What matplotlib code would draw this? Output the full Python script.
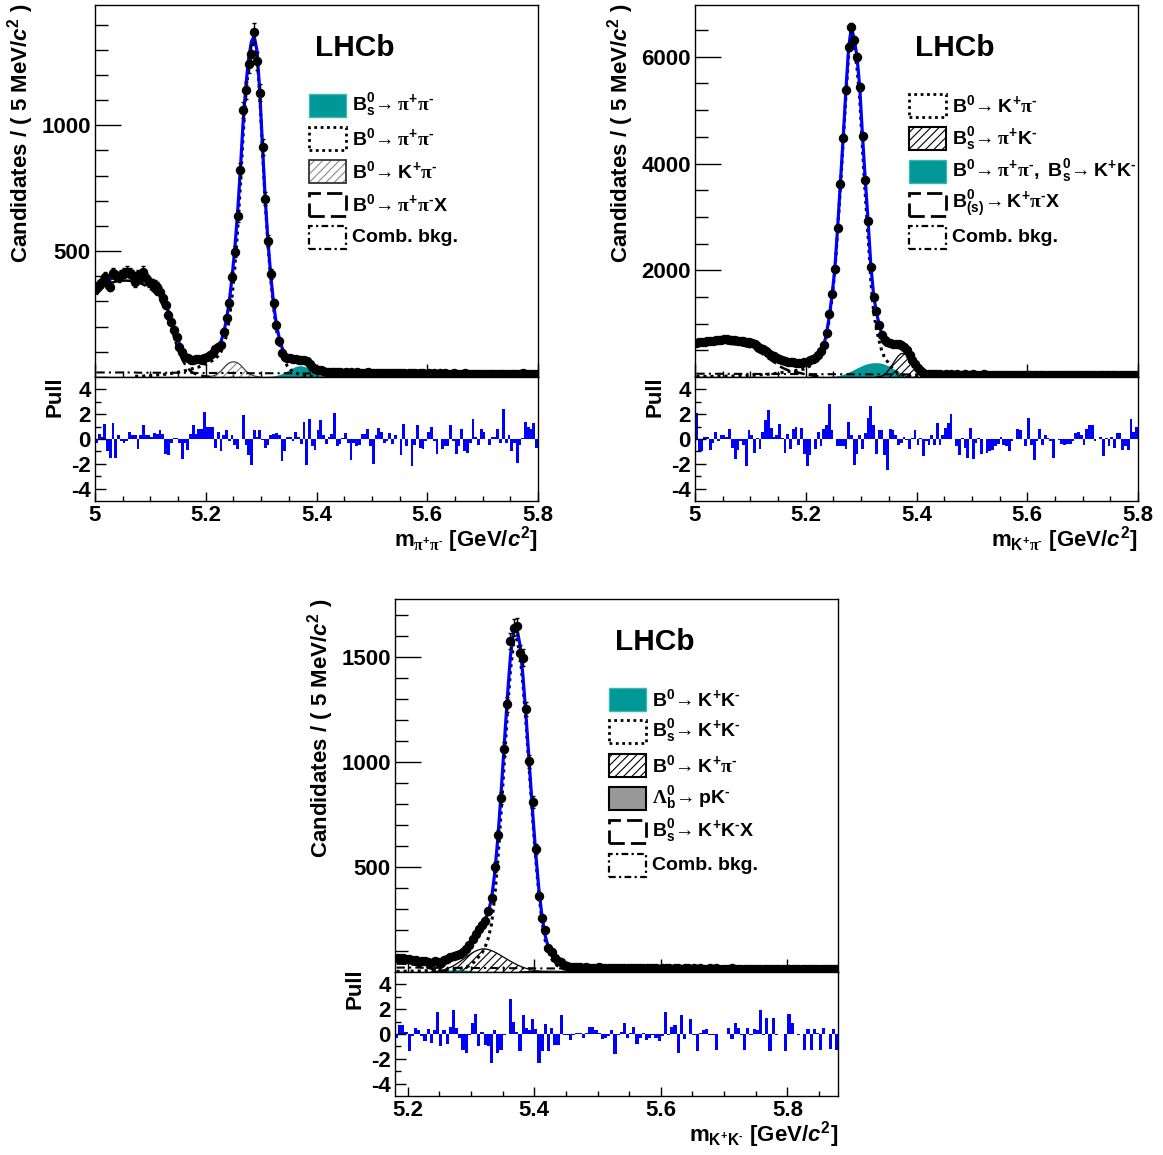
import numpy as np
import matplotlib
matplotlib.use("Agg")
import matplotlib.pyplot as plt
from matplotlib.patches import Rectangle
from matplotlib.ticker import MultipleLocator, FixedLocator, FuncFormatter

plt.rcParams['font.family'] = ['Liberation Sans', 'DejaVu Sans']
plt.rcParams['font.weight'] = 'bold'
plt.rcParams['mathtext.fontset'] = 'custom'
plt.rcParams['mathtext.rm'] = 'Liberation Sans:bold'
plt.rcParams['mathtext.bf'] = 'Liberation Sans:bold'
plt.rcParams['mathtext.sf'] = 'Liberation Sans:bold'
plt.rcParams['mathtext.it'] = 'Liberation Sans:italic:bold'
plt.rcParams['mathtext.cal'] = 'Liberation Serif'
plt.rcParams['mathtext.default'] = 'rm'
plt.rcParams['axes.unicode_minus'] = False
plt.rcParams['hatch.linewidth'] = 0.8

# ======================= DATA =======================
BIN = 0.005  # 5 MeV bins

# ---------- pi+ pi- spectrum (5.0 - 5.8) ----------
range_pipi = (5.0, 5.8)
counts_pipi = [
    352, 365, 379, 399, 372, 359, 412, 401, 399, 405,
    412, 419, 412, 405, 379, 405, 392, 419, 392, 379,
    372, 366, 359, 339, 313, 286, 246, 220, 187, 160,
    121, 101, 80, 74, 68, 68, 72, 70, 68, 74,
    81, 87, 94, 110, 121, 127, 180, 233, 293, 399,
    498, 640, 821, 1060, 1139, 1245, 1285, 1369, 1255, 1129,
    914, 708, 542, 408, 293, 207, 142, 95, 81, 76,
    74, 72, 70, 69, 68, 66, 64, 50, 40, 33,
    29, 26, 23, 21, 20, 19, 19, 18, 20, 17,
    18, 16, 19, 17, 18, 16, 17, 15, 18, 16,
    16, 15, 17, 14, 16, 15, 16, 14, 15, 17,
    14, 15, 13, 16, 14, 15, 13, 14, 15, 13,
    14, 13, 15, 12, 14, 13, 16, 12, 13, 14,
    12, 13, 12, 14, 11, 13, 12, 13, 11, 12,
    12, 11, 13, 11, 12, 10, 12, 11, 13, 10,
    11, 12, 10, 11, 14, 10, 11, 10, 12, 11]
pull_pipi = [
    -0.3, 0.4, 0.2, 1.2, -1.0, -1.5, 1.3, -1.5, 0.3, -0.2,
    -0.3, -0.2, 0.6, 0.3, 0.3, -0.8, 0.3, 1.1, 0.3, 0.3,
    0.2, 0.5, 0.4, 0.7, 0.4, -1.2, -1.3, -0.3, 0.1, 0.1,
    -0.3, -1.6, -0.3, -0.9, 0.4, 1.1, 0.4, 0.8, 0.8, 2.2,
    1.0, 1.0, 1.0, -0.7, 0.6, -1.0, 0.3, 0.7, -0.2, 0.3,
    -0.5, -0.8, 0.0, 1.9, -0.5, -1.3, -2.1, 0.7, 0.2, 0.7,
    -0.1, -0.7, -0.5, 0.3, 0.4, 0.5, 0.3, -1.8, -1.0, 0.2,
    0.2, -0.2, 0.6, 0.2, -0.4, 1.4, -2.1, 1.6, -0.6, -0.9,
    0.7, 1.5, 0.3, -0.4, 0.2, 0.4, 2.1, -0.6, -0.4, 0.1,
    0.5, -0.3, -1.7, -0.3, -0.6, -0.5, 0.4, 0.4, 0.8, -0.6,
    -2.0, 0.3, 0.9, 0.6, -0.3, -0.2, 0.5, -0.4, 0.3, 0.0,
    -1.3, 1.2, -0.6, 0.0, -2.2, -0.5, 1.1, -0.7, -0.8, -0.2,
    0.6, 1.0, -0.2, -1.2, 0.0, -0.8, -0.6, -0.6, 1.1, -0.2,
    -1.2, -0.6, 0.8, -1.0, -1.1, -0.3, 1.6, 0.2, -0.5, 0.8,
    0.6, 0.0, -0.5, 0.2, 0.2, 0.8, -0.3, 2.4, -0.3, 0.3,
    -1.0, -0.3, -1.9, -0.5, 0.1, 1.4, 1.0, 0.8, 1.3, -0.7]
comb_pipi = [
    18, 18, 18, 18, 18, 18, 18, 18, 18, 18,
    18, 18, 18, 18, 18, 17, 17, 17, 17, 17,
    17, 17, 17, 17, 17, 17, 17, 17, 17, 17,
    17, 17, 17, 17, 17, 16, 16, 16, 16, 16,
    16, 16, 16, 16, 16, 16, 16, 16, 16, 16,
    16, 16, 16, 16, 15, 15, 15, 15, 15, 15,
    15, 15, 15, 15, 15, 15, 15, 15, 15, 15,
    15, 15, 15, 14, 14, 14, 14, 14, 14, 14,
    14, 14, 14, 14, 14, 14, 14, 14, 14, 14,
    14, 14, 13, 13, 13, 13, 13, 13, 13, 13,
    13, 13, 13, 13, 13, 13, 13, 13, 13, 13,
    13, 13, 12, 12, 12, 12, 12, 12, 12, 12,
    12, 12, 12, 12, 12, 12, 12, 12, 12, 12,
    12, 12, 12, 11, 11, 11, 11, 11, 11, 11,
    11, 11, 11, 11, 11, 11, 11, 11, 11, 11,
    11, 11, 11, 11, 11, 10, 10, 10, 10, 10]
sig_pipi_start = 14
sig_pipi = [
    3, 3, 4, 4, 5, 5,
    6, 7, 8, 9, 10, 11, 12, 14, 16, 18,
    20, 22, 25, 28, 31, 34, 37, 40, 45, 50,
    55, 60, 66, 74, 84, 100, 125, 165, 228, 320,
    435, 580, 760, 960, 1120, 1235, 1310, 1335, 1280, 1120,
    900, 690, 520, 385, 275, 190, 135, 92, 62, 43,
    30, 22, 16, 12, 9, 7, 5, 4, 3, 2, 1]
partreco_pipi_start = 0
partreco_pipi = [
    327, 340, 352, 360, 367, 372, 376, 379, 381, 382,
    383, 383, 382, 381, 379, 376, 372, 367, 361, 354,
    346, 336, 323, 306, 285, 260, 232, 201, 160, 125,
    95, 70, 50, 35, 24, 16, 11, 7, 5, 3, 2, 1]
kpi_pipi_start = 41
kpi_pipi = [2, 4, 8, 15, 24, 36, 48, 56, 60, 60, 56, 48, 36, 24, 15, 8, 4, 2]
bs_pipi_start = 63
bs_pipi = [1, 2, 4, 7, 11, 16, 22, 28, 34, 39, 42, 43, 41, 37, 31, 24, 17, 11, 6, 3, 1]

# ---------- K+ pi- spectrum (5.0 - 5.8) ----------
range_kpi = (5.0, 5.8)
counts_kpi = [
    640, 650, 660, 665, 669, 675, 680, 687, 695, 700,
    712, 705, 700, 695, 687, 680, 675, 669, 660, 650,
    637, 610, 575, 550, 525, 490, 450, 420, 387, 360,
    337, 315, 294, 285, 280, 275, 270, 262, 268, 275,
    290, 312, 330, 356, 410, 481, 606, 825, 1187, 1562,
    2031, 2794, 3625, 4481, 5375, 6187, 6550, 6312, 6000, 5437,
    4512, 3687, 2925, 2062, 1500, 1231, 981, 790, 700, 665,
    640, 625, 620, 615, 600, 565, 500, 420, 320, 235,
    160, 110, 78, 56, 50, 48, 52, 47, 50, 46,
    49, 45, 48, 44, 47, 46, 44, 48, 45, 43,
    47, 44, 46, 43, 47, 45, 44, 46, 42, 45,
    44, 46, 43, 45, 42, 44, 46, 43, 44, 41,
    45, 42, 44, 43, 41, 44, 43, 42, 45, 42,
    43, 41, 44, 42, 43, 40, 43, 42, 41, 44,
    42, 40, 43, 41, 42, 43, 40, 42, 41, 43,
    41, 43, 40, 42, 41, 40, 42, 41, 39, 42]
pull_kpi = [
    2.1, -1.0, -1.0, 0.2, 0.2, -0.9, -0.3, 0.6, -0.2, 0.3,
    0.3, 0.2, 0.8, -0.7, -1.6, -0.9, -0.2, -0.5, -2.2, 0.7,
    0.3, -1.1, 0.1, -0.8, 0.6, 1.5, 2.3, 0.9, 0.2, 0.3,
    1.2, 0.1, -1.1, 0.4, -0.8, 0.8, 1.0, -0.5, 0.9, -1.2,
    -2.2, -1.3, 0.0, -0.8, 0.6, -0.6, 0.8, 1.1, 2.8, 0.7,
    0.0, -0.6, -0.6, -0.6, -0.8, 1.4, 0.3, -2.1, -1.2, 0.3,
    -0.8, 0.5, 1.7, 2.7, 1.1, -1.2, 0.7, 0.7, -1.3, -2.5,
    0.8, 0.7, 0.3, -0.5, -0.3, 0.2, -0.1, -0.8, 0.1, 0.7,
    -0.5, 0.1, -1.4, -0.2, -0.5, 0.3, -0.5, 1.3, -0.5, 0.3,
    0.9, 1.3, 2.0, 0.0, -0.6, -1.3, 0.1, -0.7, -1.5, 0.9,
    -1.6, -0.3, 0.1, -1.2, 0.0, -1.1, -1.0, -0.9, -0.6, -0.4,
    0.2, -0.5, -0.6, -1.0, -0.2, 0.0, 0.8, 0.7, 0.0, -0.6,
    1.7, -0.5, -1.7, -0.2, 0.8, -0.5, 0.3, 0.1, -0.2, -1.5,
    0.0, -0.1, -0.4, -0.5, -0.4, -0.4, -0.2, 0.5, 0.6, 0.3,
    -0.5, 0.8, 1.1, 1.1, -0.2, 0.0, 0.2, -1.4, 0.1, -0.6,
    0.2, -0.7, 0.5, 0.5, -0.9, -0.6, -0.9, 1.6, 0.6, 1.0]
comb_kpi = [
    62, 62, 62, 61, 61, 61, 61, 60, 60, 60,
    60, 60, 59, 59, 59, 59, 58, 58, 58, 58,
    58, 57, 57, 57, 57, 57, 56, 56, 56, 56,
    56, 55, 55, 55, 55, 55, 54, 54, 54, 54,
    54, 54, 53, 53, 53, 53, 53, 53, 52, 52,
    52, 52, 52, 52, 52, 51, 51, 51, 51, 51,
    51, 51, 51, 50, 50, 50, 50, 50, 50, 50,
    50, 49, 49, 49, 49, 49, 49, 49, 49, 48,
    48, 48, 48, 48, 48, 48, 48, 48, 47, 47,
    47, 47, 47, 47, 47, 47, 47, 46, 46, 46,
    46, 46, 46, 46, 46, 46, 46, 46, 45, 45,
    45, 45, 45, 45, 45, 45, 45, 45, 45, 44,
    44, 44, 44, 44, 44, 44, 44, 44, 44, 44,
    43, 43, 43, 43, 43, 43, 43, 43, 43, 43,
    43, 43, 43, 42, 42, 42, 42, 42, 42, 42,
    42, 42, 42, 42, 42, 42, 41, 41, 41, 41]
sig_kpi_start = 0
sig_kpi = [
    8, 8, 9, 9, 10, 10, 11, 11, 12, 13,
    14, 15, 16, 17, 18, 19, 21, 23, 25, 27,
    30, 33, 36, 40, 44, 48, 53, 58, 64, 70,
    77, 84, 92, 100, 108, 115, 122, 130, 140, 152,
    180, 205, 240, 285, 330, 410, 540, 760, 1080, 1480,
    1970, 2720, 3540, 4380, 5260, 6050, 6400, 6150, 5800, 5200,
    4260, 3420, 2640, 1800, 1230, 900, 680, 480, 360, 290,
    210, 150, 105, 72, 48, 31, 20, 12, 7, 4,
    2, 1]
partreco_kpi_start = 0
partreco_kpi = [
    570, 580, 590, 595, 600, 605, 610, 615, 622, 627,
    637, 630, 624, 618, 610, 602, 596, 587, 575, 562,
    545, 518, 482, 455, 428, 390, 348, 315, 279, 248,
    205, 175, 150, 130, 116, 104, 92, 80, 68, 57,
    46, 36, 27, 18, 11, 6, 2]
misid_kpi_start = 50
misid_kpi = [5, 12, 24, 38, 56, 78, 102, 128, 154, 180,
             203, 223, 239, 251, 258, 260, 257, 248, 233, 212,
             186, 156, 124, 93, 65, 42, 25, 13, 6, 2, 1]
bspik_kpi_start = 66
bspik_kpi = [5, 20, 50, 100, 170, 250, 330, 400, 440, 440,
             400, 330, 250, 170, 100, 50, 20, 5]

# ---------- K+ K- spectrum (5.18 - 5.88) ----------
range_kk = (5.18, 5.88)
counts_kk = [
    65, 68, 65, 60, 60, 58, 57, 49, 54, 50,
    49, 44, 54, 48, 41, 56, 62, 70, 76, 80,
    88, 97, 110, 130, 155, 180, 205, 225, 245, 290,
    350, 500, 650, 830, 1062, 1275, 1576, 1639, 1647, 1520,
    1497, 1252, 1003, 808, 587, 361, 255, 199, 112, 97,
    65, 54, 49, 33, 28, 25, 24, 22, 23, 21,
    22, 20, 21, 19, 22, 20, 19, 21, 18, 20,
    19, 21, 18, 20, 19, 18, 20, 17, 19, 18,
    17, 19, 18, 16, 18, 17, 19, 16, 17, 18,
    16, 18, 17, 15, 17, 16, 18, 15, 16, 17,
    15, 17, 16, 14, 16, 15, 17, 14, 15, 16,
    14, 16, 15, 14, 15, 14, 16, 13, 15, 14,
    14, 15, 13, 15, 14, 13, 15, 13, 14, 13,
    13, 14, 12, 14, 13, 12, 14, 12, 13, 12]
pull_kk = [
    -0.3, 0.7, 0.7, 0.2, -1.4, -0.2, 0.5, 0.3, -0.2, -0.6,
    0.4, -0.7, 0.3, 1.8, -1.0, 0.3, -0.8, 0.6, 1.9, 0.5,
    -0.3, -1.3, -1.5, -0.1, 0.9, 1.6, -1.0, 0.2, -0.9, -1.0,
    -2.3, 0.3, -1.5, -1.3, -0.1, 0.0, 2.8, 1.0, 0.2, -1.4,
    1.5, 0.5, 0.3, 1.2, 0.4, -2.3, -1.4, 0.8, -1.4, 0.5,
    -0.9, -0.9, 1.5, -0.1, -0.1, -0.5, -0.1, 0.1, 0.1, -0.3,
    0.1, 0.6, 0.6, 0.3, 0.1, -0.4, -0.3, -0.2, 0.3, -1.6,
    -0.1, 0.2, 0.9, -0.3, 0.1, 0.6, -0.8, -0.3, 0.1, -0.5,
    -0.3, -0.1, -0.3, -0.6, -0.2, 1.8, -0.1, 0.6, 0.7, -1.5,
    1.5, -0.4, 0.0, 1.2, -0.1, -1.4, 0.1, 0.3, 0.4, -0.1,
    -0.1, -1.3, 0.0, 0.0, 0.0, 0.5, -0.4, 0.9, 0.5, -0.1,
    -1.3, 0.5, -0.1, 0.4, 0.3, 1.9, -0.1, 1.3, -1.4, 1.3,
    -0.1, 0.0, 0.0, -1.4, 1.6, 0.9, 0.0, -0.1, 0.0, -1.3,
    0.4, -1.3, 0.4, 0.1, -1.3, 0.5, 0.0, -1.2, 0.4, -1.3]
comb_kk = [
    21, 21, 21, 21, 21, 21, 21, 21, 20, 20,
    20, 20, 20, 20, 20, 20, 20, 20, 20, 20,
    19, 19, 19, 19, 19, 19, 19, 19, 19, 19,
    19, 19, 18, 18, 18, 18, 18, 18, 18, 18,
    18, 18, 18, 18, 17, 17, 17, 17, 17, 17,
    17, 17, 17, 17, 17, 17, 16, 16, 16, 16,
    16, 16, 16, 16, 16, 16, 16, 16, 16, 16,
    15, 15, 15, 15, 15, 15, 15, 15, 15, 15,
    15, 15, 15, 15, 15, 15, 15, 14, 14, 14,
    14, 14, 14, 14, 14, 14, 14, 14, 14, 14,
    14, 14, 14, 14, 13, 13, 13, 13, 13, 13,
    13, 13, 13, 13, 13, 13, 13, 13, 13, 13,
    13, 13, 13, 12, 12, 12, 12, 12, 12, 12,
    12, 12, 12, 12, 12, 12, 12, 12, 12, 12]
sig_kk_start = 0
sig_kk = [
    3, 3, 3, 4, 4, 4, 5, 5, 5, 6,
    6, 7, 7, 8, 9, 10, 11, 12, 13, 15,
    17, 20, 24, 30, 40, 56, 73, 91, 119, 162,
    227, 354, 532, 751, 990, 1229, 1438, 1566, 1584, 1511,
    1357, 1162, 946, 730, 533, 365, 237, 148, 95, 62,
    40, 28, 20, 14, 10, 7, 5, 3, 2, 1]
partreco_kk_start = 0
partreco_kk = [40, 40, 40, 39, 38, 36, 34, 31, 28, 24, 20, 16, 12, 8, 5, 3, 1]
kpi_kk_start = 12
kpi_kk = [2, 4, 7, 11, 16, 22, 30, 39, 49, 60, 71, 82, 92, 100, 106, 110, 110, 107,
          102, 95, 87, 78, 69, 60, 51, 43, 35, 28, 22, 17, 13, 9, 6, 4, 2, 1]
b0kk_kk_start = 13
b0kk_kk = [1, 2, 3, 5, 7, 9, 10, 10, 9, 7, 5, 3, 2, 1]
lb_kk_start = 40
lb_kk = [1, 2, 2, 3, 3, 4, 4, 4, 4, 4, 4, 3, 3, 3, 3, 2, 2, 2, 2, 1, 1, 1]

# ======================= STYLE =======================
W, H = 1163, 1155
TEAL = '#009797'
BLUE = '#0000ff'


def rect(l, t, r, b):
    return [l / W, 1 - b / H, (r - l) / W, (b - t) / H]


fig = plt.figure(figsize=(W / 100, H / 100), dpi=100)


def add_fill(ax, xs, ys, **kw):
    xe = np.concatenate([[xs[0] - BIN], xs, [xs[-1] + BIN]])
    ye = np.concatenate([[0], ys, [0]])
    ax.fill_between(xe, 0, ye, **kw)
    return xe, ye


def draw_panel(main_box, pull_box, xr, ymax, ymaj, ymin_step, counts, pulls,
               comps, xmajor):
    n = len(counts)
    centres = xr[0] + BIN * (np.arange(n) + 0.5)
    total = np.zeros(n)
    for kind, start, vals, col in comps:
        total[start:start + len(vals)] += np.asarray(vals, float)

    ax = fig.add_axes(main_box)
    for kind, start, vals, col in comps:
        xs = centres[start:start + len(vals)]
        ys = np.asarray(vals, float)
        if kind == 'teal':
            add_fill(ax, xs, ys, facecolor=TEAL, edgecolor='none', lw=0, zorder=2)
        elif kind == 'gray':
            xe, ye = add_fill(ax, xs, ys, facecolor='#999999', edgecolor='none', lw=0, zorder=2.1)
            ax.plot(xe, ye, color='k', lw=0.8, zorder=2.2)
        elif kind == 'hatch':
            add_fill(ax, xs, ys, facecolor='none', edgecolor=col, hatch='////', lw=0, zorder=2.5)
            xe = np.concatenate([[xs[0] - BIN], xs, [xs[-1] + BIN]])
            ye = np.concatenate([[0], ys, [0]])
            ax.plot(xe, ye, color='k' if col == 'k' else '#444444', lw=0.9, zorder=2.6)
        elif kind == 'dotted':
            ax.plot(xs, ys, color='k', lw=2.2, ls=(0, (1, 1.3)), zorder=3)
        elif kind == 'dashed':
            ax.plot(xs, ys, color='k', lw=1.8, ls=(0, (4, 2)), zorder=3)
        elif kind == 'dashdot':
            ax.plot(xs, ys, color='k', lw=1.5, ls=(0, (4, 2, 1, 2)), zorder=3)
    ax.plot(centres, total, color=BLUE, lw=2.3, zorder=4)
    cnt = np.asarray(counts, float)
    ax.errorbar(centres, cnt, yerr=np.sqrt(cnt), fmt='o', color='k', ms=5.8,
                elinewidth=1.0, capsize=1.3, capthick=1.0, zorder=5)
    ax.set_xlim(*xr)
    ax.set_ylim(0, ymax)
    ax.yaxis.set_major_locator(FixedLocator(ymaj))
    ax.yaxis.set_minor_locator(MultipleLocator(ymin_step))
    ax.xaxis.set_major_locator(FixedLocator(xmajor))
    ax.xaxis.set_minor_locator(MultipleLocator(0.05))
    ax.tick_params(axis='y', which='major', direction='in', length=18.5, width=1,
                   labelsize=16, pad=3, right=False)
    ax.tick_params(axis='y', which='minor', direction='in', length=9.2, width=1, right=False)
    ax.tick_params(axis='x', which='major', direction='in', length=9.2, width=1,
                   labelbottom=False, top=False)
    ax.tick_params(axis='x', which='minor', direction='in', length=4.5, width=1, top=False)
    for s in ax.spines.values():
        s.set_linewidth(1.0)

    axp = fig.add_axes(pull_box)
    axp.bar(centres, pulls, width=BIN, color=BLUE, lw=0, antialiased=False)
    axp.set_xlim(*xr)
    axp.set_ylim(-5, 5)
    axp.yaxis.set_major_locator(FixedLocator([-4, -2, 0, 2, 4]))
    axp.yaxis.set_minor_locator(FixedLocator([-3, -1, 1, 3]))
    axp.xaxis.set_major_locator(FixedLocator(xmajor))
    axp.xaxis.set_minor_locator(MultipleLocator(0.05))
    axp.xaxis.set_major_formatter(FuncFormatter(lambda v, p: f'{v:g}'))
    axp.tick_params(axis='y', which='major', direction='in', length=7.7, width=1,
                    labelsize=16, pad=3, right=False)
    axp.tick_params(axis='y', which='minor', direction='in', length=4, width=1, right=False)
    axp.tick_params(axis='x', which='major', direction='in', length=6.7, width=1,
                    labelsize=16, pad=3, top=False)
    axp.tick_params(axis='x', which='minor', direction='in', length=3.8, width=1, top=False)
    for s in axp.spines.values():
        s.set_linewidth(1.0)
    return ax, axp


def legend(x0, ycs, entries):
    w, h = 37, 23
    for yc, (kind, label) in zip(ycs, entries):
        xy = (x0 / W, 1 - (yc + h / 2) / H)
        wh = (w / W, h / H)
        kw = dict(transform=fig.transFigure)
        if kind == 'teal':
            fig.add_artist(Rectangle(xy, *wh, facecolor=TEAL, edgecolor='#3fb5b5', lw=1, **kw))
        elif kind == 'dotted':
            fig.add_artist(Rectangle(xy, *wh, facecolor='white', edgecolor='k', lw=2,
                                     ls=(0, (1, 1.3)), **kw))
        elif kind == 'hatch_gray':
            fig.add_artist(Rectangle(xy, *wh, facecolor='white', edgecolor='#8a8a8a',
                                     hatch='////', lw=0, **kw))
            fig.add_artist(Rectangle(xy, *wh, fill=False, edgecolor='#333333', lw=1.3, **kw))
        elif kind == 'hatch_black':
            fig.add_artist(Rectangle(xy, *wh, facecolor='white', edgecolor='k',
                                     hatch='////', lw=0, **kw))
            fig.add_artist(Rectangle(xy, *wh, fill=False, edgecolor='k', lw=1.5, **kw))
        elif kind == 'gray':
            fig.add_artist(Rectangle(xy, *wh, facecolor='#999999', edgecolor='k', lw=1.5, **kw))
        elif kind == 'dashed':
            fig.add_artist(Rectangle(xy, *wh, facecolor='white', edgecolor='k', lw=2,
                                     ls=(0, (5.5, 2.2)), **kw))
        elif kind == 'dashdot':
            fig.add_artist(Rectangle(xy, *wh, facecolor='white', edgecolor='k', lw=1.6,
                                     ls=(0, (3, 1.5, 1, 1.5)), **kw))
        fig.text((x0 + w + 6) / W, 1 - yc / H, label, fontsize=14, ha='left',
                 va='center', fontweight='bold')


def labels(xc_y, y_top, xc_pull, pull_top, xr_right, xl_y, xlabel, lhcb_xy):
    fig.text(xc_y / W, 1 - y_top / H, r'Candidates / ( 5 MeV/$\mathit{c}^{2}$ )',
             rotation=90, ha='center', va='top', fontsize=16, fontweight='bold')
    fig.text(xc_pull / W, 1 - pull_top / H, 'Pull', rotation=90, ha='center',
             va='top', fontsize=16, fontweight='bold')
    fig.text(xr_right / W, 1 - xl_y / H, xlabel, ha='right', va='center',
             fontsize=16, fontweight='bold')
    fig.text(lhcb_xy[0] / W, 1 - lhcb_xy[1] / H, 'LHCb', ha='center', va='center',
             fontsize=21.5, fontweight='bold')


PI = r'\mathcal{\pi}'
ARR = r'\!\mathcal{\rightarrow}'
MN = r'^{\text{-}}'
PL = r'^{+}'

# ---------- panel 1 : pi pi ----------
draw_panel(rect(95, 5, 538, 377), rect(95, 377, 538, 501), range_pipi, 1478,
           [500, 1000], 100, counts_pipi, pull_pipi,
           [('dashdot', 0, comb_pipi, 'k'),
            ('teal', bs_pipi_start, bs_pipi, TEAL),
            ('hatch', kpi_pipi_start, kpi_pipi, '#8a8a8a'),
            ('dashed', partreco_pipi_start, partreco_pipi, 'k'),
            ('dotted', sig_pipi_start, sig_pipi, 'k')],
           [5.0, 5.2, 5.4, 5.6, 5.8])
labels(21, 3, 55, 376, 538, 540,
       '$m_{' + PI + PL + PI + MN + r'}$ [GeV/$\mathit{c}^{2}$]', (355, 48))
legend(309, [105, 138, 171.5, 204, 237.5],
       [('teal', '$B^{0}_{s}' + ARR + PI + PL + PI + MN + '$'),
        ('dotted', '$B^{0}' + ARR + PI + PL + PI + MN + '$'),
        ('hatch_gray', '$B^{0}' + ARR + 'K' + PL + PI + MN + '$'),
        ('dashed', '$B^{0}' + ARR + PI + PL + PI + MN + 'X$'),
        ('dashdot', 'Comb. bkg.')])

# ---------- panel 2 : K pi ----------
draw_panel(rect(695, 5, 1138, 377), rect(695, 377, 1138, 501), range_kpi, 6970,
           [2000, 4000, 6000], 500, counts_kpi, pull_kpi,
           [('dashdot', 0, comb_kpi, 'k'),
            ('teal', misid_kpi_start, misid_kpi, TEAL),
            ('hatch', bspik_kpi_start, bspik_kpi, 'k'),
            ('dashed', partreco_kpi_start, partreco_kpi, 'k'),
            ('dotted', sig_kpi_start, sig_kpi, 'k')],
           [5.0, 5.2, 5.4, 5.6, 5.8])
labels(621, 3, 655, 376, 1138, 540,
       '$m_{K' + PL + PI + MN + r'}$ [GeV/$\mathit{c}^{2}$]', (955, 48))
legend(909, [105, 138.5, 171, 204, 237.5],
       [('dotted', '$B^{0}' + ARR + 'K' + PL + PI + MN + '$'),
        ('hatch_black', '$B^{0}_{s}' + ARR + PI + PL + 'K' + MN + '$'),
        ('teal', '$B^{0}' + ARR + PI + PL + PI + MN + r',\ B^{0}_{s}' + ARR + 'K' + PL + 'K' + MN + '$'),
        ('dashed', '$B^{0}_{(s)}' + ARR + 'K' + PL + PI + MN + 'X$'),
        ('dashdot', 'Comb. bkg.')])

# ---------- panel 3 : K K ----------
draw_panel(rect(395, 599, 838, 972), rect(395, 972, 838, 1096), range_kk, 1776,
           [500, 1000, 1500], 100, counts_kk, pull_kk,
           [('dashdot', 0, comb_kk, 'k'),
            ('gray', lb_kk_start, lb_kk, '#999999'),
            ('teal', b0kk_kk_start, b0kk_kk, TEAL),
            ('hatch', kpi_kk_start, kpi_kk, 'k'),
            ('dashed', partreco_kk_start, partreco_kk, 'k'),
            ('dotted', sig_kk_start, sig_kk, 'k')],
           [5.2, 5.4, 5.6, 5.8])
labels(321, 598, 355, 968, 838, 1135,
       '$m_{K' + PL + 'K' + MN + r'}$ [GeV/$\mathit{c}^{2}$]', (655, 642))
legend(609, [699, 731, 765, 798, 831, 865],
       [('teal', '$B^{0}' + ARR + 'K' + PL + 'K' + MN + '$'),
        ('dotted', '$B^{0}_{s}' + ARR + 'K' + PL + 'K' + MN + '$'),
        ('hatch_black', '$B^{0}' + ARR + 'K' + PL + PI + MN + '$'),
        ('gray', r'$\mathcal{\Lambda}^{0}_{b}' + ARR + 'pK' + MN + '$'),
        ('dashed', '$B^{0}_{s}' + ARR + 'K' + PL + 'K' + MN + 'X$'),
        ('dashdot', 'Comb. bkg.')])

fig.savefig('out.png', dpi=100)
